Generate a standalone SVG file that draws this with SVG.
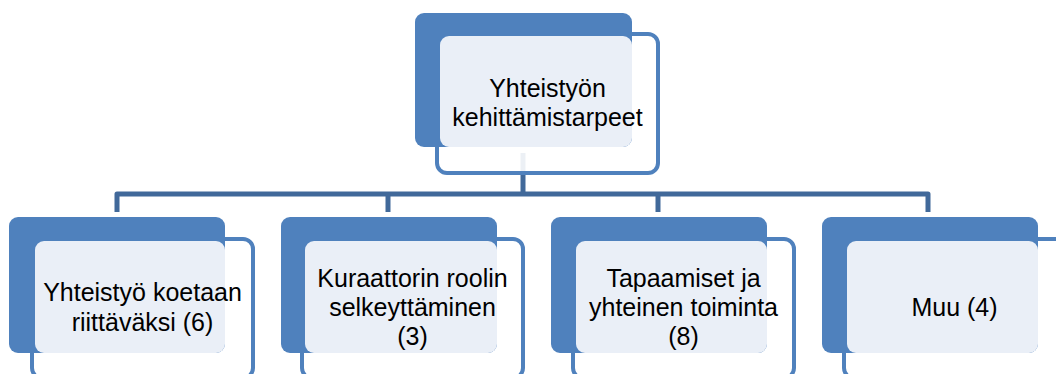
<svg xmlns="http://www.w3.org/2000/svg" width="1056" height="374" viewBox="0 0 1056 374">
  <style>
    .outline { fill: #ffffff; fill-opacity: 0.9; stroke: #4F81BD; stroke-width: 4; }
    .back { fill: #4F81BD; }
    .face { fill: #EAEFF7; }
    .label { font-family: "Liberation Sans", Arial, sans-serif; font-size: 25px; fill: #000000; text-anchor: middle; }
    .conn { fill: none; stroke: #41699A; stroke-width: 5; stroke-linejoin: round; }
  </style>
  <rect width="1056" height="374" fill="#ffffff"/>
  <g id="connectors">
    <path class="conn" d="M117,212 V194 H928 V212"/>
    <path class="conn" d="M388,194 V212"/>
    <path class="conn" d="M658,194 V212"/>
    <path class="conn" d="M523,153 V194"/>
  </g>
  <g id="node-root">
    <rect class="outline" x="437" y="34" width="221" height="139" rx="10"/>
    <rect class="back" x="415" y="13" width="217" height="134" rx="9"/>
    <rect class="face" x="440" y="36" width="192" height="111" rx="9"/>
    <text class="label" x="547.5" y="97">Yhteistyön</text>
    <text class="label" x="547.5" y="126">kehittämistarpeet</text>
  </g>
  <g id="node-1">
    <rect class="outline" x="32" y="239" width="221" height="139" rx="10"/>
    <rect class="back" x="9" y="217" width="216" height="136" rx="9"/>
    <rect class="face" x="35" y="241" width="190" height="112" rx="9"/>
    <text class="label" x="142.5" y="301">Yhteistyö koetaan</text>
    <text class="label" x="142.5" y="331">riittäväksi (6)</text>
  </g>
  <g id="node-2">
    <rect class="outline" x="302" y="239" width="221" height="139" rx="10"/>
    <rect class="back" x="281" y="217" width="216" height="136" rx="9"/>
    <rect class="face" x="305" y="241" width="192" height="112" rx="9"/>
    <text class="label" x="412.5" y="287">Kuraattorin roolin</text>
    <text class="label" x="412.5" y="316">selkeyttäminen</text>
    <text class="label" x="412.5" y="345">(3)</text>
  </g>
  <g id="node-3">
    <rect class="outline" x="573" y="239" width="221" height="139" rx="10"/>
    <rect class="back" x="551" y="217" width="216" height="136" rx="9"/>
    <rect class="face" x="576" y="241" width="191" height="112" rx="9"/>
    <text class="label" x="683.5" y="287">Tapaamiset ja</text>
    <text class="label" x="683.5" y="316">yhteinen toiminta</text>
    <text class="label" x="683.5" y="345">(8)</text>
  </g>
  <g id="node-4">
    <rect class="outline" x="844" y="239" width="221" height="139" rx="10"/>
    <rect class="back" x="822" y="217" width="216" height="136" rx="9"/>
    <rect class="face" x="847" y="241" width="191" height="112" rx="9"/>
    <text class="label" x="954.5" y="316">Muu (4)</text>
  </g>
</svg>
